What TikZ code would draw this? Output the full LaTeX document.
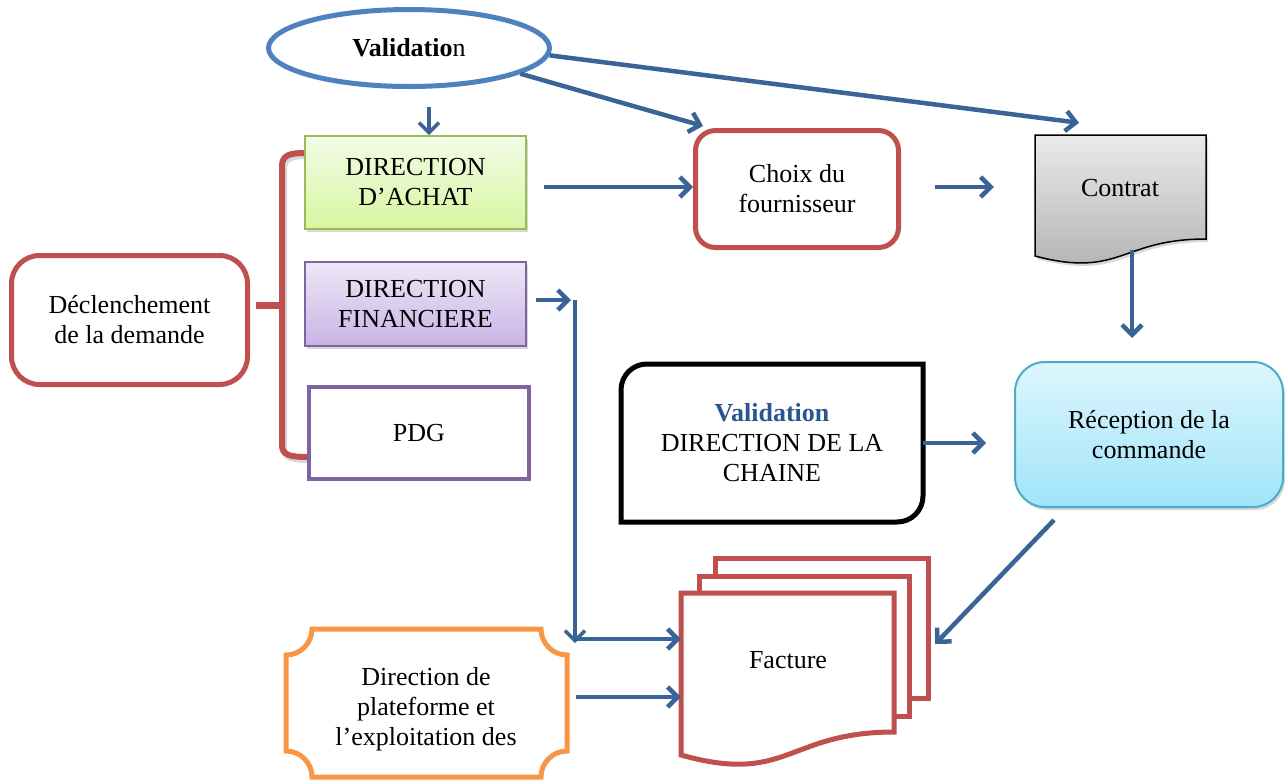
\documentclass[tikz,border=0pt]{standalone}
\usepackage{fontspec}
\setmainfont{Liberation Serif}
\usetikzlibrary{arrows.meta,shapes.geometric,shadows,calc}
\definecolor{arrowblue}{RGB}{58,99,150}
\definecolor{redc}{RGB}{192,80,77}
\definecolor{ellblue}{RGB}{79,129,189}
\definecolor{greenB}{RGB}{155,187,89}
\definecolor{greenT}{RGB}{243,252,232}
\definecolor{greenBot}{RGB}{214,246,160}
\definecolor{purpB}{RGB}{128,100,162}
\definecolor{purpT}{RGB}{238,231,247}
\definecolor{purpBot}{RGB}{200,180,228}
\definecolor{orangeB}{RGB}{247,150,70}
\definecolor{cyanB}{RGB}{75,172,198}
\definecolor{cyanT}{RGB}{222,246,253}
\definecolor{cyanBot}{RGB}{160,228,249}
\definecolor{grayT}{RGB}{234,234,234}
\definecolor{grayBot}{RGB}{176,176,176}
\definecolor{chainblue}{RGB}{43,84,145}
\tikzset{
  txt/.style={font=\fontsize{26}{30}\selectfont, align=center, inner sep=0pt},
  box/.style={txt, rectangle},
  arr/.style={draw=arrowblue, line width=4.5pt, -{Straight Barb[length=10pt,width=20pt]}},
  softshadow/.style={drop shadow={opacity=0.3, shadow xshift=2pt, shadow yshift=-3pt}},
}
\begin{document}
\begin{tikzpicture}[x=1pt,y=-1pt]
\useasboundingbox (0,0) rectangle (1285,780);
\fill[white] (0,0) rectangle (1285,780);

% Validation ellipse
\node[txt, ellipse, draw=ellblue, line width=5pt, fill=white,
      minimum width=281, minimum height=77] (val) at (409,48) {\textbf{Validatio}n};

% bracket
\draw[black, opacity=0.15, line width=6pt] (307,156) .. controls (292,156) and (284,158) .. (284,169)
   -- (284,448) .. controls (284,458) and (292,460) .. (309,460);
\draw[redc, line width=6pt] (305,153) .. controls (290,153) and (282,155) .. (282,166)
   -- (282,445) .. controls (282,455) and (290,457) .. (307,457);
\draw[redc, line width=7pt] (256,305) -- (282,305);

% left boxes
\node[box, draw=greenB, line width=2pt, top color=greenT, bottom color=greenBot, softshadow,
      minimum width=221, minimum height=93] (achat) at (415.5,182.5) {DIRECTION\\D’ACHAT};
\node[box, draw=purpB, line width=2pt, top color=purpT, bottom color=purpBot, softshadow,
      minimum width=221, minimum height=84] (fin) at (415.5,304) {DIRECTION\\FINANCIERE};
\node[box, draw=purpB, line width=4pt, fill=white,
      minimum width=220, minimum height=92] (pdg) at (419,433) {PDG};
\node[box, draw=redc, line width=5pt, fill=white, rounded corners=28pt,
      minimum width=236, minimum height=129] (decl) at (129.5,320) {Déclenchement\\de la demande};

% Choix
\node[box, draw=redc, line width=5pt, fill=white, rounded corners=20pt,
      minimum width=203, minimum height=117] (choix) at (797,189) {Choix du\\fournisseur};

% Contrat document
\draw[black, line width=1.5pt, top color=grayT, bottom color=grayBot, softshadow]
  (1035,135) -- (1206,135) -- (1206,239) .. controls (1120.5,239) and (1120.5,278.6) .. (1035,256) -- cycle;
\node[box, minimum width=171, minimum height=122] (contratbox) at (1120.5,196) {};
\node[txt] (contrat) at (1120,188) {Contrat};

% Reception
\node[box, draw=cyanB, line width=2pt, top color=cyanT, bottom color=cyanBot, rounded corners=30pt, softshadow,
      minimum width=268, minimum height=145] (reception) at (1149,434.5) {Réception de la\\commande};

% Chain box
\draw[black, line width=5pt, fill=white]
  (621,522) -- (621,390) .. controls (621,375.7) and (632.3,364) .. (647,364) -- (923,364)
  -- (923,496) .. controls (923,510.3) and (911.7,522) .. (897,522) -- cycle;
\node[box, minimum width=302, minimum height=158] (chain) at (772,443)
  {{\color{chainblue}\textbf{Validation}}\\DIRECTION DE LA\\CHAINE};

% Plateforme plaque
\draw[orangeB, line width=5pt, fill=white]
  (312,629) -- (541,629) .. controls (541,643.3) and (552.7,655) .. (567,655)
  -- (567,751) .. controls (552.7,751) and (541,762.7) .. (541,777)
  -- (312,777) .. controls (312,762.7) and (300.3,751) .. (286,751)
  -- (286,655) .. controls (300.3,655) and (312,643.3) .. (312,629) -- cycle;
\node[box, minimum width=281, minimum height=148] (plat) at (426.5,703) {};
\node[txt] (plattxt) at (426,709) {Direction de\\plateforme et\\l’exploitation des};

% Facture multi-document
\draw[redc, line width=5pt, fill=white] (715,558) rectangle (928,698);
\node[box, minimum width=213, minimum height=140] (fact3) at (821.5,628) {};
\draw[redc, line width=5pt, fill=white] (699,576) rectangle (909,716);
\draw[redc, line width=5pt, fill=white]
  (681,593) -- (894,593) -- (894,732) .. controls (787.5,732) and (787.5,785) .. (681,755) -- cycle;
\node[box, minimum width=213, minimum height=165] (factbox) at (787.5,675.5) {};
\node[txt] (facture) at (788,660) {Facture};

% connectors
\coordinate (split) at (575,300);
\coordinate (join) at (575,639);
\draw[arr, line width=3.5pt] ([xshift=13.5pt,yshift=28pt]achat.north) -- ([xshift=13.5pt]achat.north);
\draw[arr, shorten <=17pt] (achat.east |- 0,187) -- (choix.west |- 0,187);
\draw[arr, shorten <=34pt, shorten >=41pt] (choix.east |- 0,187) -- (contratbox.west |- 0,187);
\draw[arr] (val.-13) -- ([xshift=10pt,yshift=2pt]choix.north west);
\draw[arr] (val.-3) -- ([xshift=-41.5pt,yshift=12pt]contratbox.north);
\draw[arr, shorten >=16pt] ([xshift=11.5pt,yshift=7pt]contratbox.south) -- ([xshift=11.5pt,yshift=7pt]contratbox.south |- reception.north);
\draw[arr, shorten >=28pt] (chain.east) -- (chain.east -| reception.west);
\draw[arr] ([xshift=-95pt,yshift=-12pt]reception.south) -- ([xshift=7pt,yshift=-16pt]fact3.east);
\draw[arr, shorten <=9pt] (fin.east |- split) -- ([xshift=-4pt]split);
\draw[arr, line width=3.5pt] (split) -- ([yshift=-4pt]join);
\draw[arr] (join) -- (join -| factbox.west);
\draw[arr, shorten <=9pt] (plat.east |- 0,697) -- (factbox.west |- 0,697);
\end{tikzpicture}
\end{document}
